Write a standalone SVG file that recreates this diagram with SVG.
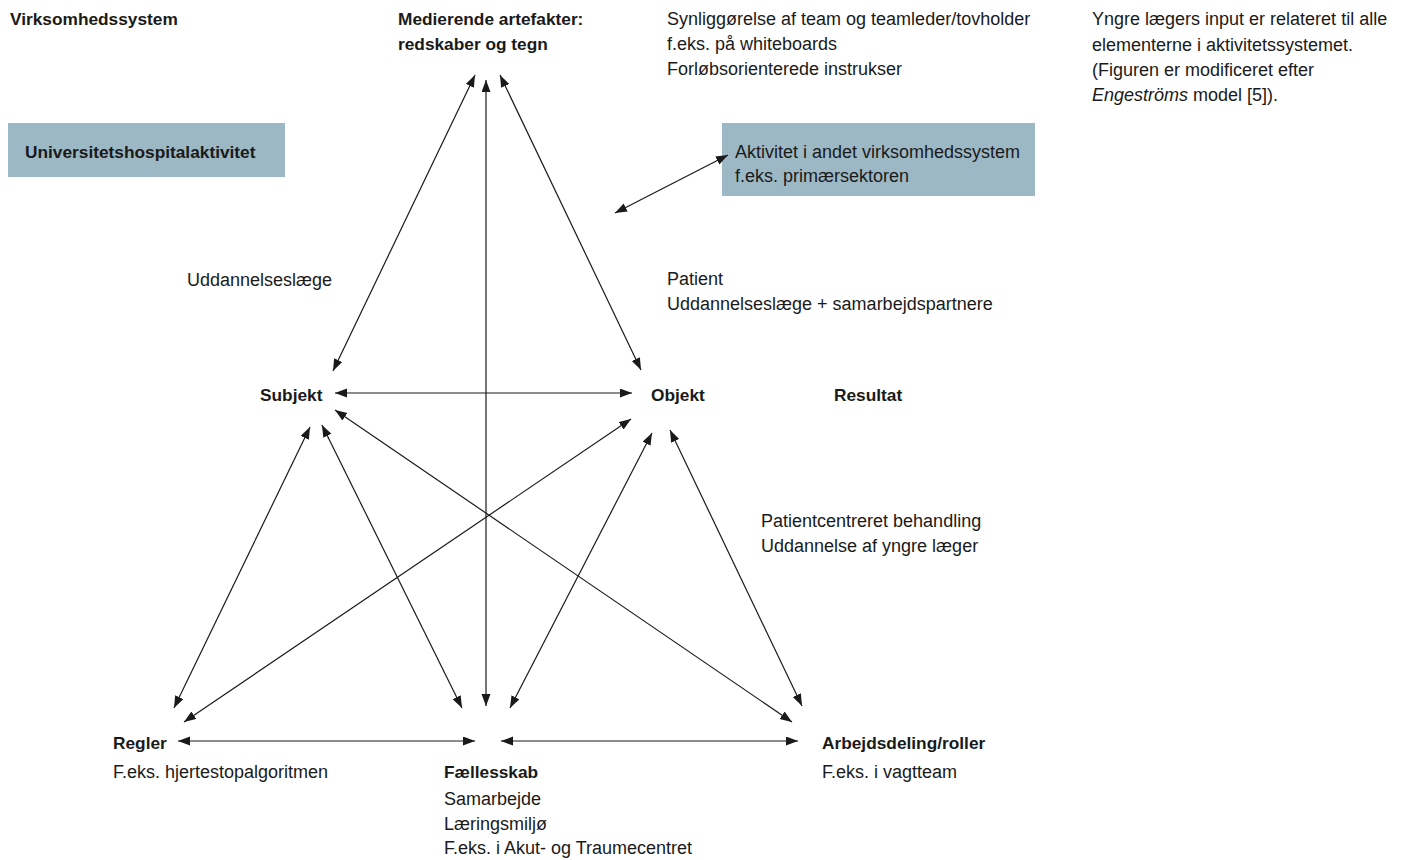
<svg xmlns="http://www.w3.org/2000/svg" width="1405" height="860" viewBox="0 0 1405 860">
<style>
text{font-family:"Liberation Sans",Arial,sans-serif;font-size:18px;fill:#1a1a1a}
.b{font-weight:bold;font-size:17.3px}
.box{fill:#9cb8c5}
.c line{stroke:#1a1a1a;stroke-width:1.2;marker-start:url(#ah);marker-end:url(#ah)}
</style>
<defs>
<marker id="ah" markerUnits="userSpaceOnUse" markerWidth="13" markerHeight="10" refX="12" refY="4.5" orient="auto-start-reverse" viewBox="0 0 13 10">
<path d="M0,0 L12,4.5 L0,9 z" fill="#1a1a1a"/>
</marker>
</defs>
<rect width="1405" height="860" fill="#fff"/>
<g id="virksomhedssystem"><text class="b" x="10" y="25">Virksomhedssystem</text></g>
<g id="universitetshospital"><rect class="box" x="8" y="123" width="277" height="54"/><text class="b" x="25" y="158">Universitetshospitalaktivitet</text></g>
<g id="artefakter"><text class="b" x="398" y="25">Medierende artefakter:</text><text class="b" x="398" y="50">redskaber og tegn</text></g>
<g id="artefakter-note"><text x="667" y="25">Synliggørelse af team og teamleder/tovholder</text><text x="667" y="50">f.eks. på whiteboards</text><text x="667" y="75">Forløbsorienterede instrukser</text></g>
<g id="caption"><text x="1092" y="25">Yngre lægers input er relateret til alle</text><text x="1092" y="51">elementerne i aktivitetssystemet.</text><text x="1092" y="76">(Figuren er modificeret efter</text><text x="1092" y="101"><tspan font-style="italic">Engeströms</tspan> model [5]).</text></g>
<g id="andet-system"><rect class="box" x="722" y="123" width="313" height="73"/><text x="735" y="158">Aktivitet i andet virksomhedssystem</text><text x="735" y="182">f.eks. primærsektoren</text></g>
<g id="subjekt-note"><text x="187" y="286">Uddannelseslæge</text></g>
<g id="objekt-note"><text x="667" y="285">Patient</text><text x="667" y="310">Uddannelseslæge + samarbejdspartnere</text></g>
<g id="subjekt"><text class="b" x="260" y="401">Subjekt</text></g>
<g id="objekt"><text class="b" x="651" y="401">Objekt</text></g>
<g id="resultat"><text class="b" x="834" y="401">Resultat</text></g>
<g id="resultat-note"><text x="761" y="527">Patientcentreret behandling</text><text x="761" y="552">Uddannelse af yngre læger</text></g>
<g id="regler"><text class="b" x="113" y="749">Regler</text><text x="113" y="778">F.eks. hjertestopalgoritmen</text></g>
<g id="faellesskab"><text class="b" x="444" y="778">Fællesskab</text><text x="444" y="805">Samarbejde</text><text x="444" y="830">Læringsmiljø</text><text x="444" y="854">F.eks. i Akut- og Traumecentret</text></g>
<g id="arbejdsdeling"><text class="b" x="822" y="749">Arbejdsdeling/roller</text><text x="822" y="778">F.eks. i vagtteam</text></g>
<g id="connectors" class="c">
<line x1="475" y1="75" x2="333" y2="371"/>
<line x1="486" y1="80" x2="486" y2="706"/>
<line x1="500" y1="75" x2="641" y2="370"/>
<line x1="335" y1="393" x2="632" y2="393"/>
<line x1="310" y1="427" x2="174" y2="708"/>
<line x1="322" y1="425" x2="462" y2="708"/>
<line x1="335" y1="410" x2="792" y2="722"/>
<line x1="631" y1="419" x2="184" y2="722"/>
<line x1="652" y1="433" x2="510" y2="708"/>
<line x1="670" y1="430" x2="802" y2="706"/>
<line x1="178" y1="741" x2="475" y2="741"/>
<line x1="501" y1="741" x2="798" y2="741"/>
<line x1="615" y1="213" x2="728" y2="155"/>
</g>
</svg>
